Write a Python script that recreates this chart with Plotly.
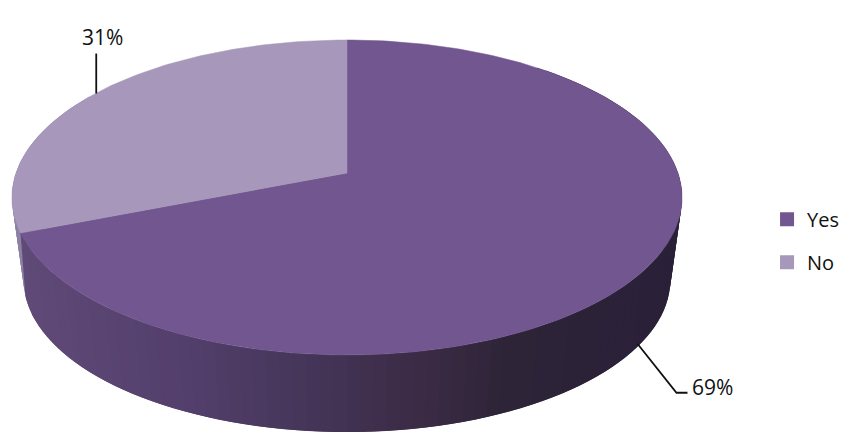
import numpy as np
import plotly.graph_objects as go

# %% data
labels = ["Yes", "No"]
values = [69, 31]

# %% styles
face_colors = {"Yes": "#725690", "No": "#a797bb"}
no_wall_color = "#8d80a5"
wall_x = [25, 190, 300, 430, 500, 680]
wall_rgb = [
    (95, 74, 120),
    (83, 63, 107),
    (70, 54, 90),
    (59, 43, 68),
    (47, 37, 57),
    (42, 32, 56),
]
font = "Open Sans, sans-serif"
W, H = 847, 446

# perspective of the pie disc, in pixels of the page
APEX_X, APEX_Y = 347, 173
RX, RY, PERSP = 331, 153.7, 0.1555
BOTTOM_SCALE, BOTTOM_Y = 0.965, 256.4
CUT_SPREAD = 8  # how far the cut edge of the Yes wall leans at its foot, degrees


def project(theta_deg, scale=1.0, y0=APEX_Y):
    """theta counted clockwise from the top of the pie"""
    t = np.radians(theta_deg)
    u, v = np.sin(t), np.cos(t)
    w = 1 + PERSP * v
    return APEX_X + scale * RX * u / w, y0 - scale * RY * v / w


def arc(a0, a1, scale=1.0, y0=APEX_Y):
    n = max(int(abs(a1 - a0)), 2) + 1
    return project(np.linspace(a0, a1, n), scale, y0)


def wall_color(x):
    rgb = [np.interp(x, wall_x, [c[i] for c in wall_rgb]) for i in range(3)]
    return "rgb(%d,%d,%d)" % tuple(rgb)


def add_wall(fig, top_a0, top_a1, bottom_a0, bottom_a1, color):
    tx, ty = arc(top_a0, top_a1)
    bx, by = arc(bottom_a0, bottom_a1, BOTTOM_SCALE, BOTTOM_Y)
    fig.add_trace(
        go.Scatter(
            x=np.concatenate((tx, bx[::-1])),
            y=np.concatenate((ty, by[::-1])),
            mode="lines", fill="toself", fillcolor=color,
            line=dict(width=0), hoverinfo="skip", showlegend=False,
        )
    )


total = sum(values)
yes_sweep = 360 * values[0] / total

fig = go.Figure()

# %% side wall, thin overlapping strips so it can carry the gradient
step = 2.0
for a in np.arange(yes_sweep, 300, step):
    add_wall(fig, a, a + step * 2, a, a + step * 2, no_wall_color)
for a in np.arange(40, yes_sweep, step):
    end = min(a + step * 2, yes_sweep)
    x_mid = project(a + step / 2)[0]
    add_wall(fig, a, end, a, end, wall_color(x_mid))
add_wall(fig, yes_sweep, yes_sweep, yes_sweep - step, yes_sweep + CUT_SPREAD, wall_color(0))

# %% top faces
start = 0
for label, value in zip(labels, values):
    sweep = 360 * value / total
    ax, ay = arc(start, start + sweep)
    fig.add_trace(
        go.Scatter(
            x=np.concatenate(([APEX_X], ax, [APEX_X])),
            y=np.concatenate(([APEX_Y], ay, [APEX_Y])),
            mode="lines", fill="toself", fillcolor=face_colors[label],
            line=dict(color=face_colors[label], width=0.5),
            hoverinfo="skip", showlegend=False,
        )
    )
    start += sweep

# %% leader lines and labels
yes_mid = yes_sweep / 2
no_mid = yes_sweep + 360 * values[1] / total / 2

lx, ly = project(yes_mid, BOTTOM_SCALE, BOTTOM_Y)
fig.add_trace(
    go.Scatter(
        x=[lx + 1, lx + 40, lx + 51], y=[ly - 4, ly + 45, ly + 45], mode="lines",
        line=dict(color="#111111", width=1.8), hoverinfo="skip", showlegend=False,
    )
)
fig.add_annotation(
    x=lx + 54, y=ly + 39, text=f"{values[0]}%", showarrow=False, xanchor="left",
    font=dict(family=font, size=21, color="#111111"),
)

nx, ny = project(no_mid)
fig.add_trace(
    go.Scatter(
        x=[nx + 1, nx + 1], y=[ny, ny - 40], mode="lines",
        line=dict(color="#111111", width=1.8), hoverinfo="skip", showlegend=False,
    )
)
fig.add_annotation(
    x=nx + 7, y=ny - 57, text=f"{values[1]}%", showarrow=False,
    font=dict(family=font, size=21, color="#111111"),
)

# %% legend
for label in labels:
    fig.add_trace(
        go.Scatter(
            x=[None], y=[None], mode="markers", name=label, legendgroup=label,
            marker=dict(symbol="square", size=14, color=face_colors[label]),
        )
    )

fig.update_layout(
    width=W,
    height=H,
    margin=dict(l=0, r=0, t=0, b=0),
    paper_bgcolor="white",
    plot_bgcolor="white",
    xaxis=dict(range=[0, W], visible=False, fixedrange=True),
    yaxis=dict(range=[H, 0], visible=False, fixedrange=True),
    legend=dict(
        x=0.9056, y=0.46, yanchor="middle", xanchor="left",
        font=dict(family=font, size=20, color="#111111"),
        tracegroupgap=14, itemwidth=30, bgcolor="rgba(0,0,0,0)",
    ),
)

fig.write_html(
    "out.html",
    config={"displayModeBar": False},
    post_script="document.body.style.margin='0';",
)
